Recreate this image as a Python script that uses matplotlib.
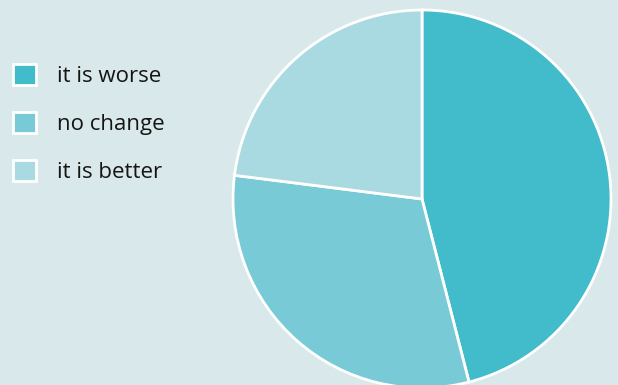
import matplotlib.pyplot as plt
from matplotlib.patches import Patch

labels = ["it is worse", "no change", "it is better"]
values = [46, 31, 23]
colors = ["#42bbcb", "#78cbd6", "#aadae1"]
bg = "#d9e8ea"

plt.rcParams['font.family'] = ['Open Sans', 'DejaVu Sans']

fig = plt.figure(figsize=(6.18, 3.85), dpi=100, facecolor=bg)
ax = fig.add_axes([0, 0, 1, 1])
ax.set_facecolor(bg)
ax.set_xlim(0, 618)
ax.set_ylim(0, 385)
ax.set_aspect('equal')
ax.axis('off')

ax.pie(values, colors=colors, startangle=90, counterclock=False,
       center=(422, 186), radius=189,
       wedgeprops=dict(edgecolor='white', linewidth=2))
ax.set_xlim(0, 618)
ax.set_ylim(0, 385)

handles = [Patch(facecolor=c, edgecolor='white', linewidth=2) for c in colors]
leg = ax.legend(handles, labels, loc='upper left', bbox_to_anchor=(0.006, 0.856),
                frameon=False, fontsize=16, handlelength=1.05, handleheight=1.05,
                handletextpad=0.95, labelspacing=1.13, borderaxespad=0,
                borderpad=0.4)
for t in leg.get_texts():
    t.set_color('#151515')

fig.savefig("out.png", dpi=100, facecolor=bg)
